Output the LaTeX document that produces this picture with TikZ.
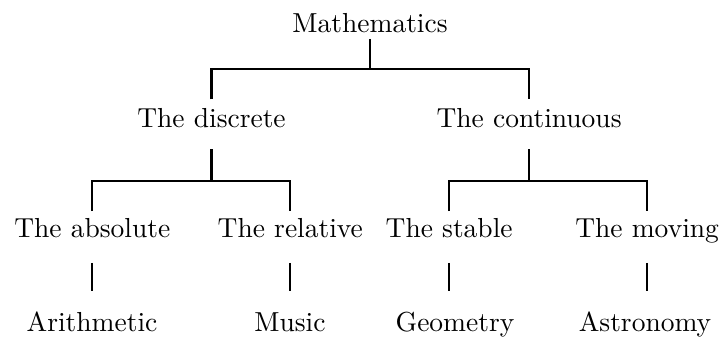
\documentclass[tikz,border=0pt]{standalone}
\usepackage{tikz}
\tikzset{
  lbl/.style={anchor=base,inner sep=0pt,text height=7pt,text depth=0pt},
  link/.style={line width=0.8pt}
}
\begin{document}
\begin{tikzpicture}[x=1cm,y=1cm]
\path[use as bounding box] (0,0) rectangle (9.227,4.332);
% labels
\node[lbl] (math) at (4.729,3.923) {Mathematics};
\node[lbl] (disc) at (2.703,2.709) {The discrete};
\node[lbl] (cont) at (6.761,2.709) {The continuous};
\node[lbl] (abs) at (1.180,1.291) {The absolute};
\node[lbl] (rel) at (3.710,1.291) {The relative};
\node[lbl] (stab) at (5.740,1.291) {The stable};
\node[lbl] (mov) at (8.270,1.291) {The moving};
\node[lbl] (arith) at (1.176,0.102) {Arithmetic};
\node[lbl] (music) at (3.706,0.102) {Music};
\node[lbl] (geom) at (5.815,0.102) {Geometry};
\node[lbl] (astro) at (8.243,0.102) {Astronomy};
% branch points
\path (math.south) ++(0,-0.47) coordinate (mbar);
\path (disc.south) ++(0,-0.68) coordinate (dbar);
\path (cont.south) ++(0,-0.68) coordinate (cbar);
% connectors
\draw[link,shorten <=0.08cm] (math.south) -- (mbar);
\draw[link,shorten <=0.10cm,shorten >=0.10cm] (disc.north) |- (mbar) -| (cont.north);
\draw[link,shorten <=0.28cm] (disc.south) -- (dbar);
\draw[link,shorten <=0.09cm,shorten >=0.09cm] (abs.north) |- (dbar) -| (rel.north);
\draw[link,shorten <=0.28cm] (cont.south) -- (cbar);
\draw[link,shorten <=0.09cm,shorten >=0.09cm] (stab.north) |- (cbar) -| (mov.north);
\foreach \up/\down in {abs/arith,rel/music,stab/geom,mov/astro}
  \draw[link,shorten <=0.31cm,shorten >=0.26cm] (\up.south) -- (\up.south |- \down.north);
\end{tikzpicture}
\end{document}
